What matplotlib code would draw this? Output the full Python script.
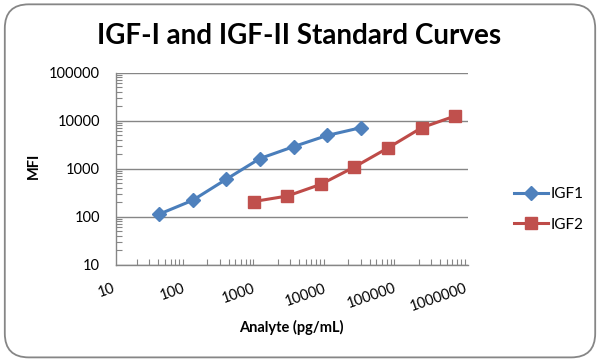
#!/usr/bin/env python3
"""IGF-I and IGF-II standard curves (log-log), Excel-style look."""

import matplotlib

matplotlib.use("Agg")
import matplotlib.pyplot as plt
import matplotlib.transforms as mtransforms
from matplotlib.patches import FancyBboxPatch
from matplotlib.ticker import FixedLocator, LogLocator, NullFormatter

# =============================================================================
# Data
# =============================================================================

igf1_conc = [41, 123, 370, 1111, 3333, 10000, 30000]
igf1_mfi = [112, 218, 600, 1620, 2860, 4900, 7100]

igf2_conc = [905, 2716, 8148, 24444, 73333, 220000, 660000]
igf2_mfi = [206, 268, 470, 1080, 2700, 7100, 12500]

x_ticks = [10, 100, 1000, 10000, 100000, 1000000]
y_ticks = [10, 100, 1000, 10000, 100000]

GRAY = "#868686"
BLUE_LINE = "#4A7EBB"
BLUE_MARK = "#4F81BD"
RED_LINE = "#BE4B48"
RED_MARK = "#C0504D"

plt.rcParams["font.family"] = ["Lato", "DejaVu Sans"]

fig = plt.figure(figsize=(6.0, 3.61), dpi=100)
fig.patch.set_facecolor("white")

# rounded chart border
border = FancyBboxPatch(
    (0.008, 0.01), 0.984, 0.978,
    boxstyle="round,pad=0,rounding_size=0.04",
    transform=fig.transFigure, facecolor="none", edgecolor=GRAY,
    linewidth=1.3, mutation_aspect=600 / 361,
)
fig.patches.append(border)

ax = fig.add_axes([0.193, 0.267, 0.587, 0.532])

ax.plot(igf1_conc, igf1_mfi, color=BLUE_LINE, linewidth=2.2, marker="D",
        markersize=7.5, markerfacecolor=BLUE_MARK, markeredgecolor=BLUE_MARK,
        label="IGF1")
ax.plot(igf2_conc, igf2_mfi, color=RED_LINE, linewidth=2.2, marker="s",
        markersize=8, markerfacecolor=RED_MARK, markeredgecolor=RED_MARK,
        label="IGF2")

ax.set_xscale("log")
ax.set_yscale("log")
ax.set_xlim(x_ticks[0], x_ticks[-1])
ax.set_ylim(y_ticks[0], y_ticks[-1])

ax.xaxis.set_major_locator(FixedLocator(x_ticks))
ax.yaxis.set_major_locator(FixedLocator(y_ticks))
ax.xaxis.set_minor_locator(LogLocator(base=10, subs=range(2, 10), numticks=20))
ax.yaxis.set_minor_locator(LogLocator(base=10, subs=range(2, 10), numticks=20))
ax.xaxis.set_minor_formatter(NullFormatter())
ax.yaxis.set_minor_formatter(NullFormatter())

ax.set_yticklabels([str(v) for v in y_ticks], fontsize=10.5)
ax.set_xticklabels([str(v) for v in x_ticks], fontsize=10.5, rotation=19,
                   ha="right", va="top", rotation_mode="anchor")

ax.tick_params(axis="y", which="major", length=0, pad=11.5)
ax.tick_params(axis="x", which="major", length=0, pad=12)
ax.tick_params(axis="both", which="minor", direction="in", length=4,
               color=GRAY, width=0.8)

# nudge the angled x labels a little to the left
shift = mtransforms.ScaledTranslation(-4 / 100, 0, fig.dpi_scale_trans)
for lbl in ax.get_xticklabels():
    lbl.set_transform(lbl.get_transform() + shift)

ax.grid(True, axis="y", which="major", color=GRAY, linewidth=1.0)
ax.set_axisbelow(True)

for side in ["top", "right"]:
    ax.spines[side].set_visible(False)
for side in ["left", "bottom"]:
    ax.spines[side].set_color(GRAY)
    ax.spines[side].set_linewidth(1.0)

fig.text(0.498, 0.9, "IGF-I and IGF-II Standard Curves", ha="center",
         va="center", fontsize=20, fontweight="bold")
fig.text(0.056, 0.54, "MFI", ha="center", va="center", rotation=90,
         fontsize=10.5, fontweight="bold")
fig.text(0.486, 0.092, "Analyte (pg/mL)", ha="center", va="center",
         fontsize=10.5, fontweight="bold")

ax.legend(loc="center left", bbox_to_anchor=(0.847, 0.42),
          bbox_transform=fig.transFigure, frameon=False, fontsize=11,
          handlelength=2.2, handletextpad=0.2, labelspacing=1.1,
          borderaxespad=0)

fig.savefig("out.png", dpi=100, facecolor="white")
plt.close(fig)
